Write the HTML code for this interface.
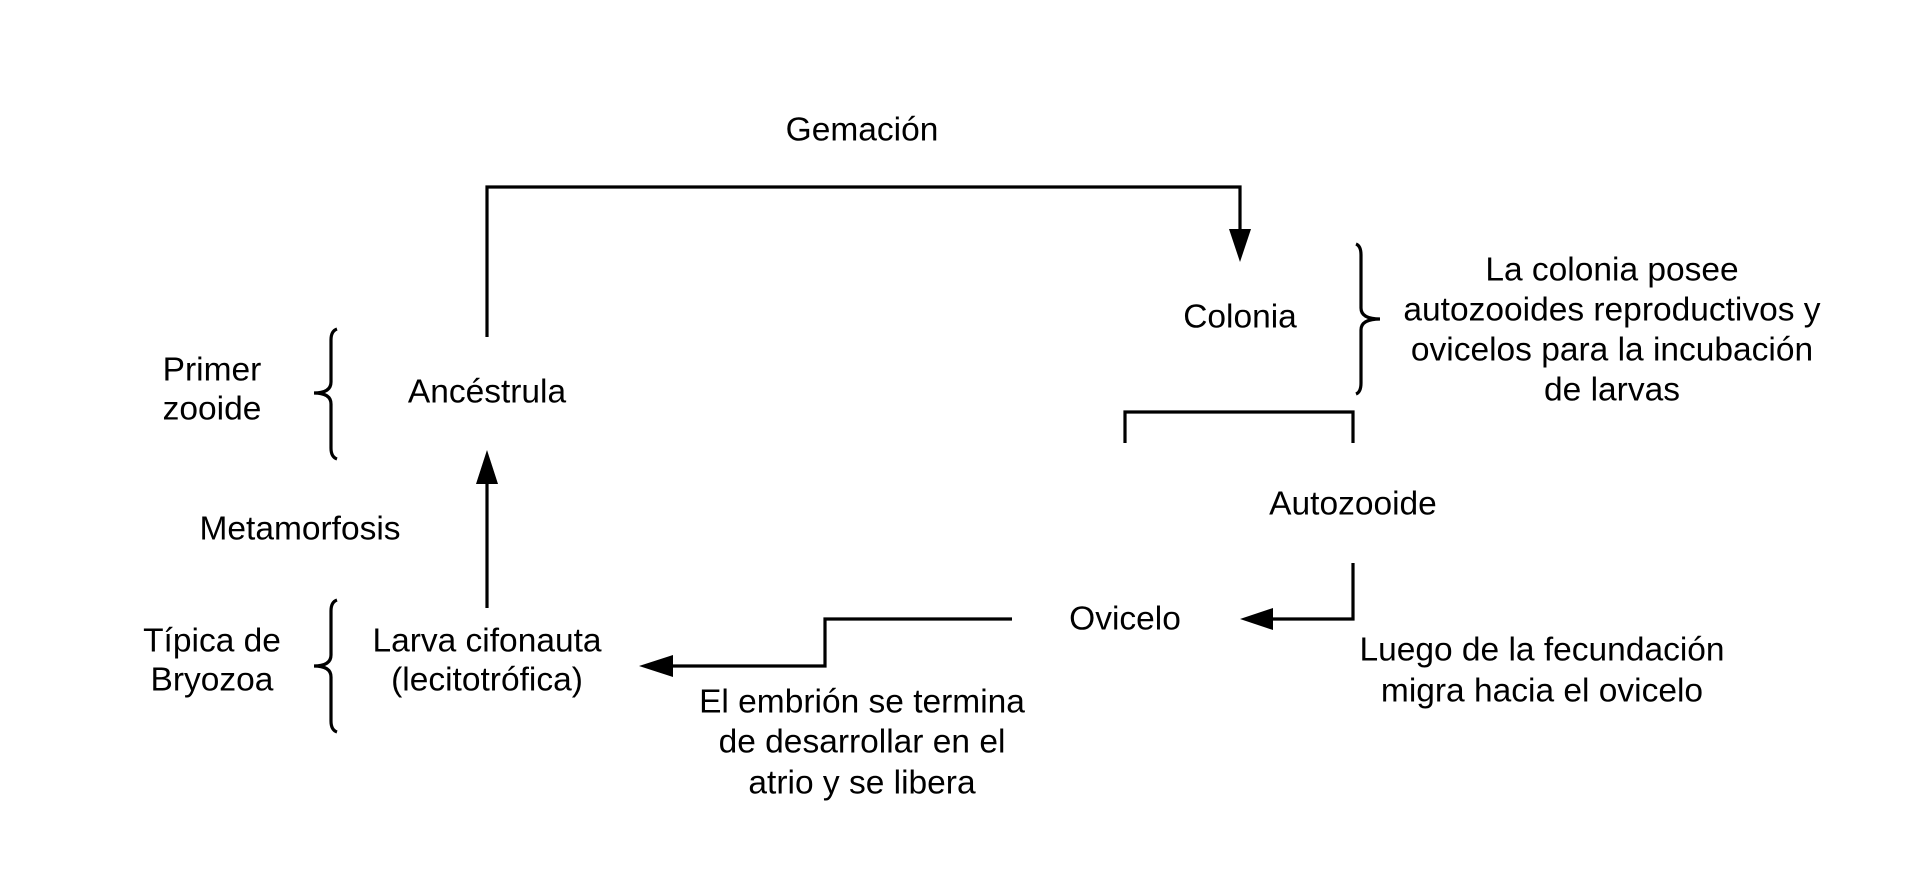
<!DOCTYPE html>
<html><head><meta charset="utf-8"><style>
html,body{margin:0;padding:0;background:#fff;}
svg{display:block;}
text{font-family:"Liberation Sans",Arial,sans-serif;font-size:33.5px;fill:#000;text-anchor:middle;dominant-baseline:central;}
</style></head><body>
<svg width="1913" height="891" viewBox="0 0 1913 891" xmlns="http://www.w3.org/2000/svg">
<g fill="none" stroke="#000" stroke-width="3.2">
<polyline points="487,337 487,187 1240,187 1240,232"/>
<line x1="487" y1="608" x2="487" y2="480"/>
<polyline points="1125,443 1125,412 1353,412 1353,443"/>
<polyline points="1353,563 1353,619 1270,619"/>
<polyline points="1012,619 825,619 825,666 670,666"/>
<path d="M337,329 Q331,331 331,340 L331,382 Q331,393 314,393 Q331,393 331,404 L331,448 Q331,457 337,459"/>
<path d="M337,600 Q331,602 331,611 L331,655 Q331,666 314,666 Q331,666 331,677 L331,721 Q331,730 337,732"/>
<path d="M1356,244 Q1361,246 1361,255 L1361,308 Q1361,319 1380,319 Q1361,319 1361,330 L1361,383 Q1361,392 1356,394"/>
</g>
<g fill="#000">
<polygon points="1229,229 1251,229 1240,262"/>
<polygon points="476,484 498,484 487,450"/>
<polygon points="1273,608 1273,630 1240,619"/>
<polygon points="673,655 673,677 639,666"/>
</g>
<text x="862" y="130">Gemación</text>
<text x="487" y="392">Ancéstrula</text>
<text x="212" y="370">Primer</text>
<text x="212" y="409">zooide</text>
<text x="300" y="529">Metamorfosis</text>
<text x="212" y="641">Típica de</text>
<text x="212" y="680">Bryozoa</text>
<text x="487" y="641">Larva cifonauta</text>
<text x="487" y="680">(lecitotrófica)</text>
<text x="1240" y="317">Colonia</text>
<text x="1612" y="270">La colonia posee</text>
<text x="1612" y="310">autozooides reproductivos y</text>
<text x="1612" y="350">ovicelos para la incubación</text>
<text x="1612" y="390">de larvas</text>
<text x="1353" y="504">Autozooide</text>
<text x="1125" y="619">Ovicelo</text>
<text x="1542" y="650">Luego de la fecundación</text>
<text x="1542" y="691">migra hacia el ovicelo</text>
<text x="862" y="702">El embrión se termina</text>
<text x="862" y="742">de desarrollar en el</text>
<text x="862" y="783">atrio y se libera</text>
</svg>
</body></html>
